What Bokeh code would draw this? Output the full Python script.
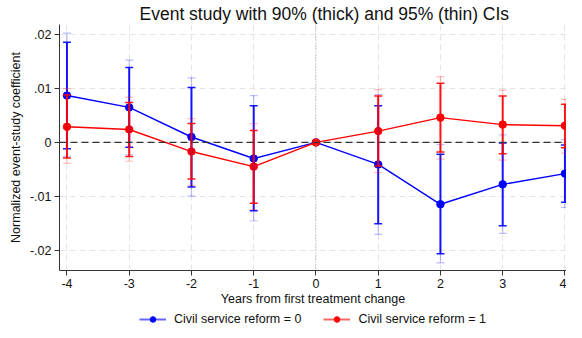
from bokeh.plotting import figure
from bokeh.layouts import column
from bokeh.models import (ColumnDataSource, Whisker, TeeHead, Span, Legend, LegendItem,
                          FixedTicker, Range1d, Title)
from bokeh.embed import file_html
from bokeh.resources import INLINE

years = [-4, -3, -2, -1, 0, 1, 2, 3, 4]
year_labels = ["-4", "-3", "-2", "-1", "0", "1", "2", "3", "4"]

b0 = [0.0087, 0.0065, 0.0010, -0.0030, 0.0, -0.0041, -0.0115, -0.0078, -0.0058]
b0_lo90 = [-0.0012, -0.0009, -0.0083, -0.0127, 0.0, -0.0151, -0.0207, -0.0155, -0.0111]
b0_hi90 = [0.0186, 0.0139, 0.0102, 0.0068, 0.0, 0.0068, -0.0022, -0.0001, -0.0005]
b0_lo95 = [-0.0026, -0.0023, -0.0100, -0.0146, 0.0, -0.0171, -0.0224, -0.0169, -0.0121]
b0_hi95 = [0.0203, 0.0153, 0.0120, 0.0087, 0.0, 0.0089, -0.0004, 0.0014, 0.0005]

b1 = [0.0029, 0.0024, -0.0017, -0.0045, 0.0, 0.0021, 0.0046, 0.0033, 0.0031]
b1_lo90 = [-0.0029, -0.0026, -0.0068, -0.0113, 0.0, -0.0044, -0.0018, -0.0021, -0.0010]
b1_hi90 = [0.0088, 0.0074, 0.0035, 0.0022, 0.0, 0.0086, 0.0110, 0.0086, 0.0071]
b1_lo95 = [-0.0039, -0.0035, -0.0080, -0.0125, 0.0, -0.0056, -0.0031, -0.0033, -0.0020]
b1_hi95 = [0.0100, 0.0084, 0.0044, 0.0035, 0.0, 0.0098, 0.0122, 0.0097, 0.0080]

series_labels = ["Civil service reform = 0", "Civil service reform = 1"]
series_colors = ["#0000FF", "#FF0000"]

y_ticks = [-0.02, -0.01, 0.0, 0.01, 0.02]
y_tick_labels = ["-.02", "-.01", "0", ".01", ".02"]

FONT = "Liberation Sans"

p = figure(width=566, height=308, output_backend="svg", toolbar_location=None,
           x_range=Range1d(-4.12, 4.025), y_range=Range1d(-0.0238, 0.0219),
           min_border_left=59, min_border_right=0, min_border_top=0, min_border_bottom=38)
p.outline_line_color = None
p.background_fill_color = "white"

p.title = Title(text="Event study with 90% (thick) and 95% (thin) CIs", align="left",
                text_font=FONT, text_font_size="17.5px", text_font_style="normal",
                text_color="#111111", offset=80, standoff=2)

for ax in (p.xaxis[0], p.yaxis[0]):
    ax.axis_line_color = "#333333"
    ax.major_tick_line_color = "#333333"
    ax.minor_tick_line_color = None
    ax.major_tick_out = 5
    ax.major_tick_in = 0
    ax.major_label_text_font = FONT
    ax.major_label_text_font_size = "12.5px"
    ax.major_label_text_color = "#111111"
    ax.axis_label_text_font = FONT
    ax.axis_label_text_font_size = "12.5px"
    ax.axis_label_text_font_style = "normal"
    ax.axis_label_text_color = "#111111"

p.xaxis.ticker = FixedTicker(ticks=years)
p.xaxis.major_label_overrides = {t: l for t, l in zip(years, year_labels)}
p.xaxis.major_label_standoff = 3
p.xaxis.axis_label = "Years from first treatment change"
p.xaxis.axis_label_standoff = 1
p.yaxis.ticker = FixedTicker(ticks=y_ticks)
p.yaxis.major_label_overrides = {t: l for t, l in zip(y_ticks, y_tick_labels)}
p.yaxis.major_label_standoff = 3
p.yaxis.axis_label = "Normalized event-study coefficient"
p.yaxis.axis_label_standoff = 4

p.xgrid.grid_line_color = "#e4e4e4"
p.xgrid.grid_line_dash = "6 4"
p.ygrid.grid_line_color = "#e4e4e4"
p.ygrid.grid_line_dash = "6 4"

p.add_layout(Span(location=0, dimension="height", line_color="#aaaaaa",
                  line_dash="1 2", line_width=1))
p.add_layout(Span(location=0, dimension="width", line_color="#333333",
                  line_dash="7 4", line_width=1.4))

all_series = [
    (b0, b0_lo90, b0_hi90, b0_lo95, b0_hi95),
    (b1, b1_lo90, b1_hi90, b1_lo95, b1_hi95),
]
for (b, lo90, hi90, lo95, hi95), col in zip(all_series, series_colors):
    idx = [i for i, yv in enumerate(years) if yv != 0]
    src_ci = ColumnDataSource(dict(
        x=[years[i] for i in idx],
        lo90=[lo90[i] for i in idx], hi90=[hi90[i] for i in idx],
        lo95=[lo95[i] for i in idx], hi95=[hi95[i] for i in idx]))
    w95 = Whisker(base="x", lower="lo95", upper="hi95", source=src_ci,
                  line_color=col, line_alpha=0.25, line_width=1.2,
                  upper_head=TeeHead(size=8, line_color=col, line_alpha=0.25, line_width=1.2),
                  lower_head=TeeHead(size=8, line_color=col, line_alpha=0.25, line_width=1.2),
                  level="glyph")
    w90 = Whisker(base="x", lower="lo90", upper="hi90", source=src_ci,
                  line_color=col, line_alpha=0.9, line_width=2,
                  upper_head=TeeHead(size=8, line_color=col, line_alpha=0.9, line_width=1.5),
                  lower_head=TeeHead(size=8, line_color=col, line_alpha=0.9, line_width=1.5),
                  level="glyph")
    p.add_layout(w95)
    p.add_layout(w90)
    src = ColumnDataSource(dict(x=years, y=b))
    p.line("x", "y", source=src, line_color=col, line_width=1.4)
    p.scatter("x", "y", source=src, size=7.5, fill_color=col, line_color=col)

# legend strip below the plot
lg = figure(width=566, height=18, output_backend="svg", toolbar_location=None,
            x_range=Range1d(0, 1), y_range=Range1d(0, 1),
            x_axis_type=None, y_axis_type=None, min_border=0)
lg.outline_line_color = None
lg.xgrid.visible = False
lg.ygrid.visible = False
items = []
for lab, col in zip(series_labels, series_colors):
    ln = lg.line(x=[-10, -9], y=[-10, -9], line_color=col, line_width=2, line_alpha=0.6)
    sc = lg.scatter(x=[-10], y=[-10], size=6, fill_color=col, line_color=col)
    items.append(LegendItem(label=lab, renderers=[ln, sc]))
legend = Legend(items=items, orientation="horizontal", location=(80, 0),
                label_text_font=FONT, label_text_font_size="12.5px", label_text_color="#111111",
                border_line_color=None, background_fill_alpha=0,
                glyph_width=27, glyph_height=14, spacing=22, padding=2, margin=0,
                label_standoff=8)
lg.add_layout(legend)

layout = column(p, lg, spacing=0)
open("out.html", "w").write(file_html(layout, INLINE))
